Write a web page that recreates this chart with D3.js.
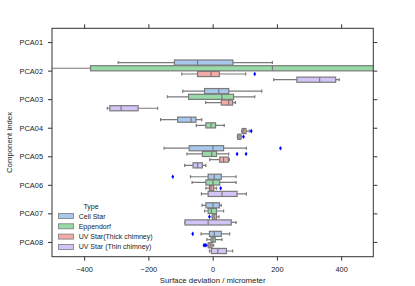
<!DOCTYPE html>
<html>
<head>
<meta charset="utf-8">
<script src="https://cdn.jsdelivr.net/npm/d3@7"></script>
<style>
  body { margin: 0; background: #fff; }
  text { font-family: "Liberation Sans", Arial, sans-serif; fill: #222; }
</style>
</head>
<body>
<svg width="415" height="286"></svg>
<script>
// categories and hue groups
const categories = ['PCA01', 'PCA02', 'PCA03', 'PCA04', 'PCA05', 'PCA06', 'PCA07', 'PCA08'];
const types = ['Cell Star', 'Eppendorf', 'UV Star(Thick chimney)', 'UV Star (Thin chimney)'];
const xTicks = [-400, -200, 0, 200, 400];

// box stats per category: [whisker low, q1, median, q3, whisker high]  (null = no data)
const cellStar = [null, [-294, -119, -47, 63, 186], [-93, -25, 19, 50, 153], [-162, -109, -67, -52, -34],
  [-151, -73, 1, 34, 105], [-69, -14, 5, 27, 73], [-33, -21, 1, 21, 27], [-36, -10, 5, 27, 53]];
const eppendorf = [null, [-620, -380, 186, 540, 700], [-141, -75, 29, 65, 131], [-51, -21, -5, 9, 36],
  [-80, -32, -3, 12, 50], [-64, -21, 1, 22, 73], [-25, -14, -4, 12, 34], [-18, -5, 1, 8, 29]];
const uvThick = [null, [-96, -47, -5, 21, 103], [-22, 27, 50, 62, 71], [90, 92, 97, 104, 114],
  [-9, 22, 34, 49, 52], [-21, -10, -5, 3, 12], [-2, 0, 5, 12, 20], [-18, -14, -8, -2, 3]];
const uvThin = [null, [190, 262, 333, 383, 394], [-328, -320, -285, -232, -171], [77, 78, 82, 88, 89],
  [-87, -61, -47, -32, -21], [-35, -14, 29, 76, 105], [-86, -86, -14, 58, 73], [-10, -4, 16, 43, 62]];

// outliers per category
const cellStarOut = [[], [], [], [], [211], [-124], [], [-62]];
const eppendorfOut = [[], [], [], [], [76, 104], [], [], []];
const uvThickOut = [[], [131], [], [120], [], [25], [-10], [-27, -24, -21]];
const uvThinOut = [[], [], [], [96], [], [], [], []];

const colors = ['#a7c8ec', '#98daa7', '#f3aba8', '#d3c4f7'];
const edge = '#7a7a7a';

const stats = [cellStar, eppendorf, uvThick, uvThin];
const outs = [cellStarOut, eppendorfOut, uvThickOut, uvThinOut];

const svg = d3.select('svg');
const mLeft = 52, mRight = 373.3, mTop = 28.3, mBottom = 256.7;

const x = d3.scaleLinear().domain([-500, 500]).range([mLeft, mRight]);
const y = d3.scaleBand().domain(categories).range([mTop, mBottom]);
const hue = d3.scaleBand().domain(types).range([-y.bandwidth() * 0.4, y.bandwidth() * 0.4]);
const bh = hue.bandwidth() * 0.9;

svg.append('defs').append('clipPath').attr('id', 'clip')
  .append('rect').attr('x', mLeft).attr('y', mTop).attr('width', mRight - mLeft).attr('height', mBottom - mTop);

const plot = svg.append('g').attr('clip-path', 'url(#clip)');

types.forEach((t, ti) => {
  categories.forEach((c, ci) => {
    const s = stats[ti][ci];
    const cy = y(c) + y.bandwidth() / 2 + hue(t) + hue.bandwidth() / 2;
    const g = plot.append('g');
    if (s) {
      const [lo, q1, md, q3, hi] = s;
      g.append('line').attr('x1', x(lo)).attr('x2', x(q1)).attr('y1', cy).attr('y2', cy);
      g.append('line').attr('x1', x(q3)).attr('x2', x(hi)).attr('y1', cy).attr('y2', cy);
      g.append('line').attr('x1', x(lo)).attr('x2', x(lo)).attr('y1', cy - bh * 0.3).attr('y2', cy + bh * 0.3);
      g.append('line').attr('x1', x(hi)).attr('x2', x(hi)).attr('y1', cy - bh * 0.3).attr('y2', cy + bh * 0.3);
      g.append('rect').attr('x', x(q1)).attr('y', cy - bh / 2)
        .attr('width', x(q3) - x(q1)).attr('height', bh)
        .attr('fill', colors[ti]);
      g.append('line').attr('x1', x(md)).attr('x2', x(md)).attr('y1', cy - bh / 2).attr('y2', cy + bh / 2);
      g.selectAll('line,rect').attr('stroke', edge).attr('stroke-width', 1.2);
    }
    g.selectAll('path.out').data(outs[ti][ci]).enter().append('path')
      .attr('class', 'out')
      .attr('d', v => `M${x(v)},${cy - 2.3}L${x(v) + 1.4},${cy}L${x(v)},${cy + 2.3}L${x(v) - 1.4},${cy}Z`)
      .attr('fill', '#0000ff');
  });
});

// frame
svg.append('rect').attr('x', mLeft).attr('y', mTop).attr('width', mRight - mLeft).attr('height', mBottom - mTop)
  .attr('fill', 'none').attr('stroke', '#333').attr('stroke-width', 1);

function styleAxis(g) {
  g.select('.domain').remove();
  g.selectAll('line').attr('stroke', '#333');
  g.selectAll('text').attr('font-size', 7.4).attr('fill', '#222')
    .attr('font-family', '"Liberation Sans", Arial, sans-serif');
}

svg.append('g').attr('transform', `translate(0,${mBottom})`)
  .call(d3.axisBottom(x).tickValues(xTicks).tickSize(4).tickPadding(6)).call(styleAxis);
svg.append('g').attr('transform', `translate(0,${mTop})`)
  .call(d3.axisTop(x).tickValues(xTicks).tickSize(4).tickFormat('')).call(styleAxis);
svg.append('g').attr('transform', `translate(${mLeft},0)`)
  .call(d3.axisLeft(y).tickSize(4).tickPadding(5)).call(styleAxis);
svg.append('g').attr('transform', `translate(${mRight},0)`)
  .call(d3.axisRight(y).tickSize(4).tickFormat('')).call(styleAxis);

svg.append('text').attr('x', (mLeft + mRight) / 2).attr('y', 283).attr('text-anchor', 'middle')
  .attr('font-size', 7.8).text('Surface deviation / micrometer');
svg.append('text').attr('transform', `translate(12,${(mTop + mBottom) / 2}) rotate(-90)`)
  .attr('text-anchor', 'middle').attr('font-size', 7.8).text('Component index');

// legend
const legend = svg.append('g');
legend.append('text').attr('x', 91).attr('y', 208.5).attr('text-anchor', 'middle')
  .attr('font-size', 7).text('Type');
types.forEach((t, i) => {
  const ly = 216 + i * 10.3;
  legend.append('rect').attr('x', 58.5).attr('y', ly - 2.5).attr('width', 15).attr('height', 5)
    .attr('fill', colors[i]).attr('stroke', edge).attr('stroke-width', 0.8);
  legend.append('text').attr('x', 78.7).attr('y', ly + 2.5).attr('font-size', 7).text(t);
});
</script>
</body>
</html>
